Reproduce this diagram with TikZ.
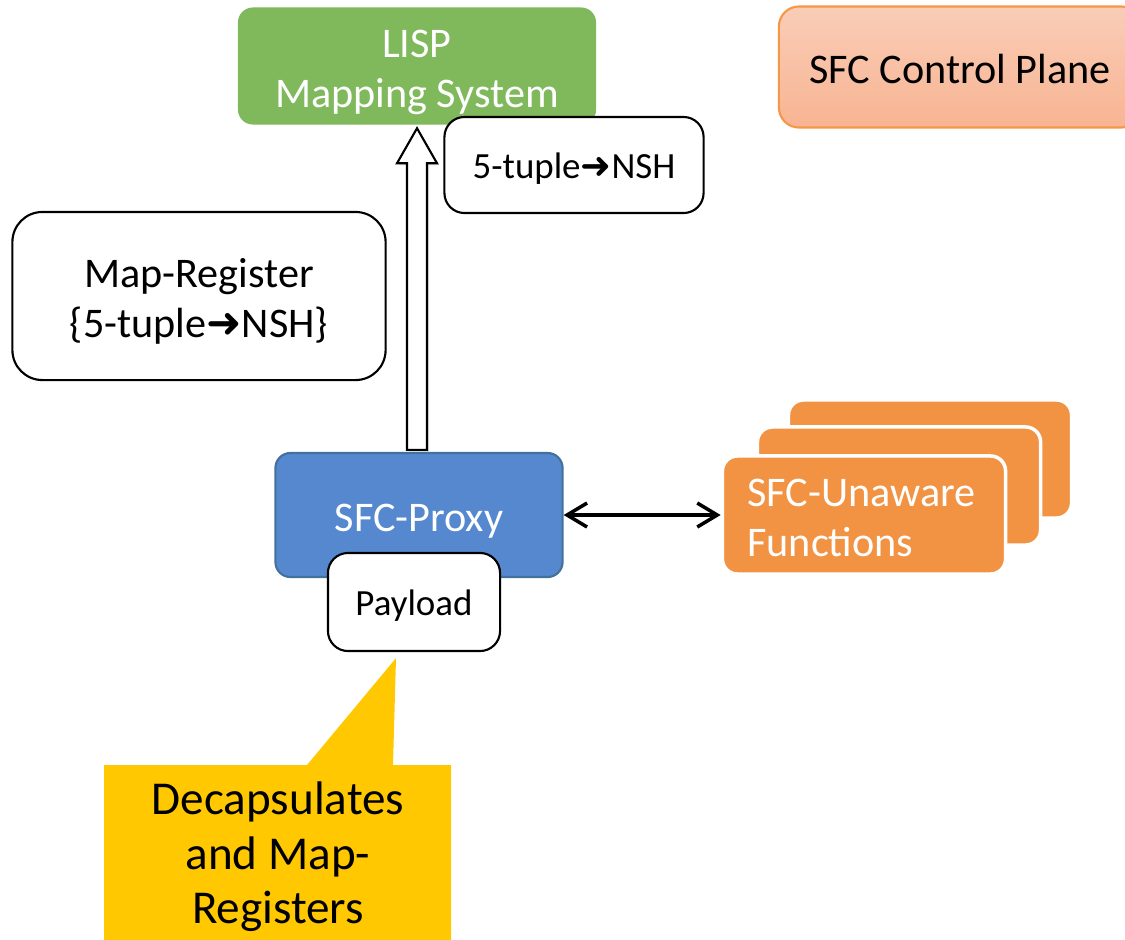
\documentclass[tikz,border=0pt]{standalone}
\usepackage{fontspec}
\setmainfont{Carlito}
\newfontfamily\arrowfont{DejaVu Sans}
\usetikzlibrary{arrows.meta,calc,shadows}
\definecolor{lispgreen}{RGB}{128,185,92}
\definecolor{proxyblue}{RGB}{85,136,206}
\definecolor{proxyborder}{RGB}{65,113,156}
\definecolor{funcorange}{RGB}{242,147,68}
\definecolor{planetop}{RGB}{249,205,183}
\definecolor{planebottom}{RGB}{248,180,146}
\definecolor{planeborder}{RGB}{247,150,70}
\definecolor{calloutyellow}{RGB}{255,200,0}
\newcommand{\rarr}{{\arrowfont ➜}}
\begin{document}
\begin{tikzpicture}[x=0.01cm,y=-0.01cm,
    big font/.style={font=\fontsize{12}{14.3}\selectfont},
    small font/.style={font=\fontsize{10.5}{12.6}\selectfont},
    one line/.style={text height=11.8pt,text depth=2.5pt},
    two lines/.style={text height=26.1pt,text depth=2.5pt},
    two lines top/.style={text height=11.8pt,text depth=16.8pt},
    small line/.style={text height=10.2pt,text depth=2.4pt},
    filled box/.style={rectangle,rounded corners=0.15cm,text=white,align=center,inner sep=0pt,big font},
    white box/.style={rectangle,rounded corners=0.2cm,draw=black,line width=0.6pt,fill=white,align=center,inner sep=0pt},
    orange box/.style={rectangle,rounded corners=0.15cm,fill=funcorange,draw=white,line width=1pt,minimum width=2.83cm,minimum height=1.18cm},
    hollow arrow/.style={draw=black,line width=0.6pt,fill=white,drop shadow={opacity=0.2,shadow xshift=0.6pt,shadow yshift=-0.6pt}},
    both arrow/.style={{Straight Barb[length=2mm,width=2.4mm]}-{Straight Barb[length=2mm,width=2.4mm]},line width=1pt}]

    \useasboundingbox (0,0) rectangle (1125,939);

    \node[filled box,two lines,fill=lispgreen,minimum width=3.58cm,minimum height=1.17cm] (lisp) at (417,66) {LISP\\Mapping System};
    \node[rectangle,rounded corners=0.2cm,top color=planetop,bottom color=planebottom,draw=planeborder,line width=0.6pt,
          minimum width=3.62cm,minimum height=1.21cm,big font,one line] (plane) at (960,67) {SFC Control Plane};
    \node[white box,small font,small line,minimum width=2.59cm,minimum height=0.96cm] (tuple) at (574,165) {5-tuple\rarr NSH};
    \node[white box,big font,two lines,rounded corners=0.3cm,minimum width=3.73cm,minimum height=1.68cm] (mapreg) at (199,296) {Map-Register\\\{5-tuple\rarr NSH\}};

    \node[filled box,one line,fill=proxyblue,draw=proxyborder,line width=0.6pt,minimum width=2.87cm,minimum height=1.24cm] (proxy) at (419,515) {SFC-Proxy};
    \node[white box,small font,small line,minimum width=1.72cm,minimum height=0.98cm] (payload) at (414,602) {Payload};

    \node[orange box] (func3) at (930,459) {};
    \node[orange box] (func2) at (899,486) {};
    \node[orange box,text=white,big font,two lines top,align=left,text width=2.33cm,inner xsep=0.25cm,inner ysep=0pt] (func1) at (864,515) {SFC-Unaware\\Functions};

    \coordinate (abase) at (proxy.north -| lisp.south);
    \path[hollow arrow] ($(abase)+(-10,-2)$) -- ($(lisp.south)+(-10,38)$) -- ($(lisp.south)+(-20,38)$) -- ($(lisp.south)+(0,3)$)
        -- ($(lisp.south)+(20,38)$) -- ($(lisp.south)+(10,38)$) -- ($(abase)+(10,-2)$) -- cycle;

    \draw[both arrow] (proxy.east) -- (func1.west);

    \fill[calloutyellow] (104,765) -- (307,765) -- ($(payload.south)+(-18,6)$) -- (393,765) -- (451,765) -- (451,945) -- (104,945) -- cycle;
    \node[font=\fontsize{13.4}{15.5}\selectfont,align=center] (decap) at (278,857) {Decapsulates\\and Map-\\Registers};
\end{tikzpicture}
\end{document}
